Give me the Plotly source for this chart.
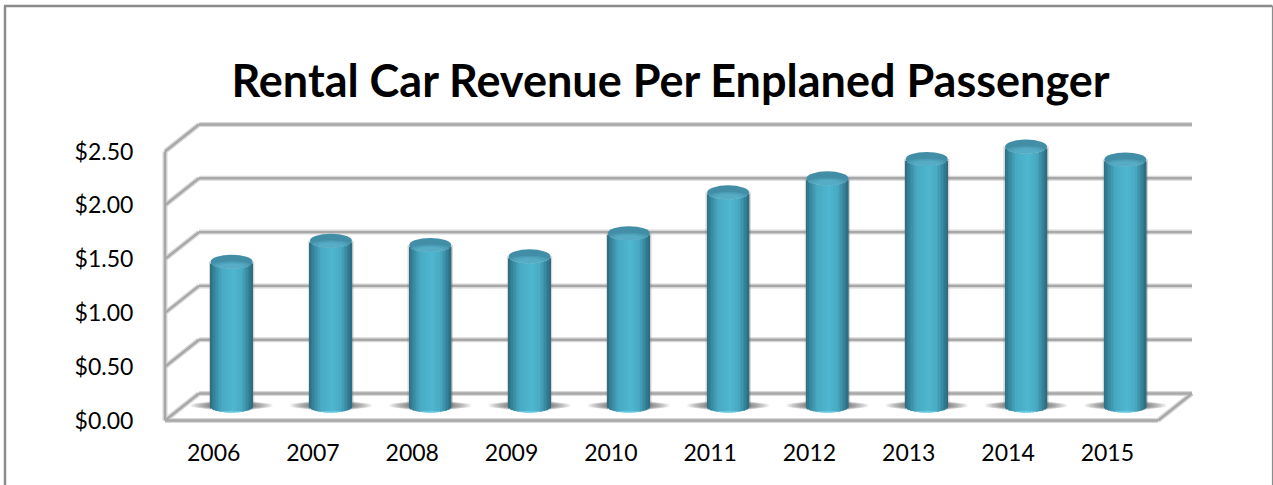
import math
import plotly.graph_objects as go

# ---- data ----
years = ["2006", "2007", "2008", "2009", "2010", "2011", "2012", "2013", "2014", "2015"]
revenue = [1.35, 1.545, 1.505, 1.40, 1.615, 1.995, 2.125, 2.305, 2.42, 2.30]
y_ticks = [0, 0.5, 1.0, 1.5, 2.0, 2.5]
y_labels = ["$0.00", "$0.50", "$1.00", "$1.50", "$2.00", "$2.50"]
title = "Rental Car Revenue Per Enplaned Passenger"

# ---- layout constants ----
W, H = 1273, 485
PX_X = 99.3      # px per category
PX_Y = 107.6     # px per dollar
FRONT_L, FLOOR_Y = 165.0, 420.5
DEPTH_X, DEPTH_Y = 34.0 / PX_X, 27.0 / PX_Y
PLOT_L, PLOT_R, PLOT_T, PLOT_B = 158.0, 1200.0, 116.0, 428.0
x0_data = -0.5
x_end = 9.5
y_rng = [-(PLOT_B - FLOOR_Y) / PX_Y, (FLOOR_Y - PLOT_T) / PX_Y]
x_rng = [x0_data - (FRONT_L - PLOT_L) / PX_X, x0_data + (PLOT_R - FRONT_L) / PX_X]

BAR_SHIFT = DEPTH_X / 2 + 0.0
BASELINE = DEPTH_Y / 2
HALF_W = 21.0 / PX_X
ELL = 7.0 / PX_Y
FOOT = 5.5 / PX_Y
N = 28
positions = [i + BAR_SHIFT for i in range(len(years))]

shapes = []


def seg(x0, y0, x1, y1, color, width, layer="below"):
    shapes.append(dict(type="line", xref="x", yref="y", x0=x0, y0=y0, x1=x1, y1=y1,
                       line=dict(color=color, width=width), layer=layer))


def wall_lines(color, width):
    for v in y_ticks:
        seg(x0_data, v, x0_data + DEPTH_X, v + DEPTH_Y, color, width)
        seg(x0_data + DEPTH_X, v + DEPTH_Y, x_end + DEPTH_X, v + DEPTH_Y, color, width)
    seg(x0_data, 0, x0_data, y_ticks[-1], color, width)
    seg(x0_data, 0, x_end, 0, color, width)
    seg(x_end, 0, x_end + DEPTH_X, DEPTH_Y, color, width)


wall_lines("#d8d8d8", 5)
wall_lines("#a8a8a8", 2.4)

# floor shadows
for p in positions:
    for k in range(14):
        hw = (41 - k * 1.4) / PX_X
        hh = (1.6 + k * 0.2) / PX_Y
        shapes.append(dict(type="rect", xref="x", yref="y", x0=p - hw, x1=p + hw,
                           y0=BASELINE + 1.5 / PX_Y - hh, y1=BASELINE + 1.5 / PX_Y + hh,
                           fillcolor="rgba(70,70,70,0.06)", line=dict(width=0), layer="below"))


def shade(t):
    stops = [(-1.0, (44, 108, 128)), (-0.8, (54, 134, 156)), (-0.45, (72, 170, 195)),
             (0.1, (78, 182, 208)), (0.5, (72, 170, 195)), (0.82, (52, 130, 152)),
             (1.0, (44, 104, 124))]
    for (a, ca), (b, cb) in zip(stops, stops[1:]):
        if a <= t <= b:
            f = (t - a) / (b - a)
            c = [round(ca[i] + (cb[i] - ca[i]) * f) for i in range(3)]
            return "rgb(%d,%d,%d)" % tuple(c)
    return "rgb(44,104,124)"


fig = go.Figure()

# soft halo around each cylinder
fig.add_trace(go.Bar(x=positions, y=revenue, base=[BASELINE] * len(years),
                     width=2.16 * HALF_W, marker=dict(color="rgba(110,110,110,0.28)", line_width=0),
                     hoverinfo="skip", showlegend=False))

# cylinder body built from vertical slices
for j in range(N):
    t0 = -1 + 2 * j / N
    t1 = -1 + 2 * (j + 1) / N
    tm = (t0 + t1) / 2
    arc = math.sqrt(max(0, 1 - tm * tm))
    top_sag, foot_sag = ELL * arc, FOOT * arc
    fig.add_trace(go.Bar(x=positions, y=[v - top_sag + foot_sag for v in revenue],
                         base=[BASELINE - foot_sag] * len(years),
                         offset=t0 * HALF_W, width=(t1 - t0) * HALF_W * 1.15,
                         marker=dict(color=shade(tm), line_width=0),
                         hoverinfo="skip", showlegend=False))

# cap ellipses
for p, v in zip(positions, revenue):
    cy = v + BASELINE
    shapes.append(dict(type="circle", xref="x", yref="y", x0=p - HALF_W, x1=p + HALF_W,
                       y0=cy - ELL, y1=cy + ELL, fillcolor="#418ea6",
                       line=dict(width=0), layer="above"))
    for frac, alpha in [(0.92, 0.22), (0.78, 0.25), (0.6, 0.3)]:
        shapes.append(dict(type="circle", xref="x", yref="y", x0=p - HALF_W * frac, x1=p + HALF_W * frac,
                           y0=cy - ELL, y1=cy + ELL * (frac - 0.85), fillcolor="rgba(98,196,218,%s)" % alpha,
                           line=dict(width=0), layer="above"))
    # light reflection at the cylinder foot
    shapes.append(dict(type="circle", xref="x", yref="y", x0=p - HALF_W * 0.5, x1=p + HALF_W * 0.5,
                       y0=BASELINE - FOOT * 1.02, y1=BASELINE - FOOT * 0.66, fillcolor="rgba(120,215,235,0.6)",
                       line=dict(width=0), layer="above"))


# outer frame (open at the bottom), paper coordinates derived from the plot box
def px(xp):
    return (xp - PLOT_L) / (PLOT_R - PLOT_L)


def py(yp):
    return (PLOT_B - yp) / (PLOT_B - PLOT_T)


frame = "#8c8c8c"
for a, b, c, d, wd in [(5, 6, 5, 485, 2.5), (4, 6, 1272.5, 6, 2.5), (1272.5, 6, 1272.5, 485, 1.2)]:
    shapes.append(dict(type="line", xref="paper", yref="paper", x0=px(a), y0=py(b), x1=px(c), y1=py(d),
                       line=dict(color=frame, width=wd), layer="above"))

fig.update_layout(
    width=W, height=H,
    margin=dict(l=PLOT_L, r=W - PLOT_R, t=PLOT_T, b=H - PLOT_B, pad=0, autoexpand=False),
    paper_bgcolor="white", plot_bgcolor="white",
    barmode="overlay", showlegend=False,
    font=dict(family="Lato, Carlito, sans-serif", color="#000000"),
    title=dict(text="<b>%s</b>" % title, font=dict(size=45, color="#000000", family="Lato"),
               x=670.5 / W, xanchor="center", xref="container", y=1 - 81.0 / H, yanchor="middle"),
    xaxis=dict(range=x_rng, tickmode="array", tickvals=list(range(len(years))), ticktext=years,
               showgrid=False, zeroline=False, showline=False, ticks="outside",
               ticklen=4, tickcolor="rgba(0,0,0,0)", tickfont=dict(size=23, color="#000000"),
               ticklabelshift=-1),
    yaxis=dict(range=y_rng, tickmode="array", tickvals=y_ticks, ticktext=y_labels,
               showgrid=False, zeroline=False, showline=False, ticks="outside",
               ticklen=19, tickcolor="rgba(0,0,0,0)", tickfont=dict(size=23, color="#000000")),
    shapes=shapes,
)

fig.write_html("out.html", config=dict(displayModeBar=False),
               post_script="document.body.style.margin='0';document.body.style.overflow='hidden';")
